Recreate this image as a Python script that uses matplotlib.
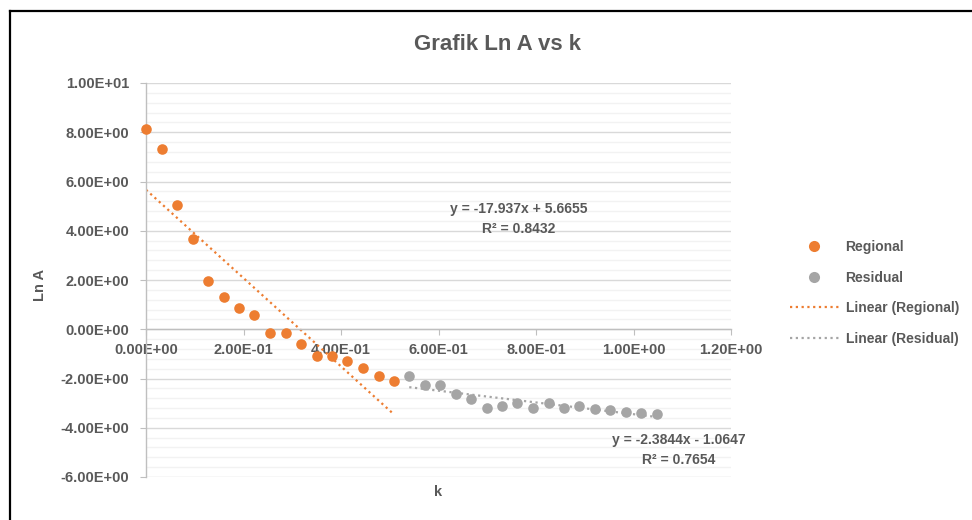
import matplotlib.pyplot as plt
from matplotlib.lines import Line2D
from matplotlib.ticker import MultipleLocator, FormatStrFormatter

# Data
k_regional = [0.000, 0.0328, 0.0636, 0.0964, 0.127, 0.160, 0.191, 0.222, 0.254,
              0.287, 0.318, 0.350, 0.382, 0.413, 0.445, 0.477, 0.508]
ln_a_regional = [8.12, 7.33, 5.03, 3.65, 1.96, 1.31, 0.85, 0.58, -0.15,
                 -0.15, -0.58, -1.10, -1.10, -1.29, -1.56, -1.88, -2.09]

k_residual = [0.540, 0.572, 0.604, 0.636, 0.667, 0.699, 0.730, 0.762, 0.793,
              0.826, 0.857, 0.888, 0.920, 0.952, 0.984, 1.016, 1.048]
ln_a_residual = [-1.91, -2.26, -2.26, -2.63, -2.85, -3.18, -3.12, -3.00, -3.21,
                 -3.00, -3.18, -3.13, -3.22, -3.28, -3.35, -3.39, -3.43]

# Trendline coefficients as printed on the chart (slope, intercept)
fit_regional = [-17.937, 5.6655]
fit_residual = [-2.3844, -1.0647]
r2_regional = 0.8432
r2_residual = 0.7654

series_names = ["Regional", "Residual"]

# Style
ORANGE = "#ED7D31"
GREY = "#A5A5A5"
TEXT = "#595959"
plt.rcParams["font.family"] = ["Liberation Sans", "DejaVu Sans"]
plt.rcParams["font.weight"] = "bold"

W, H = 972, 520
fig = plt.figure(figsize=(W / 100, H / 100), dpi=100)
ax = fig.add_axes([146 / W, 1 - 477 / H, 585 / W, 394 / H])

# Scatter points (not clipped, the first point sits on the y axis)
ax.scatter(k_regional, ln_a_regional, s=58, color=ORANGE, zorder=3,
           linewidths=0, clip_on=False)
ax.scatter(k_residual, ln_a_residual, s=58, color=GREY, zorder=3,
           linewidths=0, clip_on=False)

# Trendlines over the data range of each series
dots = (0, (1, 1.6))
for xs, (m, c), col in ((k_regional, fit_regional, ORANGE),
                        (k_residual, fit_residual, GREY)):
    x0, x1 = min(xs), max(xs)
    ax.plot([x0, x1], [m * x0 + c, m * x1 + c], color=col, lw=1.6,
            linestyle=dots, zorder=2)

# Axes formatting
ax.set_xlim(0, 1.2)
ax.set_ylim(-6, 10)
ax.xaxis.set_major_locator(MultipleLocator(0.2))
ax.yaxis.set_major_locator(MultipleLocator(2))
ax.yaxis.set_minor_locator(MultipleLocator(0.4))
ax.xaxis.set_major_formatter(FormatStrFormatter("%.2E"))
ax.yaxis.set_major_formatter(FormatStrFormatter("%.2E"))

ax.grid(axis="y", which="major", color="#D9D9D9", lw=1.0, zorder=0)
ax.grid(axis="y", which="minor", color="#F2F2F2", lw=1.0, zorder=0)
ax.set_axisbelow(True)
# x tick labels sit on top of the horizontal gridlines, under the points
ax.xaxis.set_zorder(1.5)

for side in ("top", "right"):
    ax.spines[side].set_visible(False)
ax.spines["bottom"].set_position(("data", 0))
for side in ("bottom", "left"):
    ax.spines[side].set_color("#BFBFBF")
    ax.spines[side].set_linewidth(1.0)

ax.tick_params(axis="both", which="major", colors="#BFBFBF", length=4,
               labelcolor=TEXT, labelsize=10.5)
ax.tick_params(axis="y", which="minor", length=0)
ax.tick_params(axis="x", pad=6)
ax.tick_params(axis="y", pad=8)

# Titles and axis labels
fig.text(497 / W, 1 - 44 / H, "Grafik Ln A vs k", ha="center", va="center",
         fontsize=16, color=TEXT, fontweight="bold")
fig.text(40 / W, 1 - 285 / H, "Ln A", rotation=90, ha="center", va="center",
         fontsize=10.5, color=TEXT, fontweight="bold")
fig.text(438 / W, 1 - 492 / H, "k", ha="center", va="center",
         fontsize=10.5, color=TEXT, fontweight="bold")

# Trendline equations
for (m, c), r2, (px, py) in ((fit_regional, r2_regional, (519, 209)),
                             (fit_residual, r2_residual, (679, 440))):
    sign = "+" if c >= 0 else "-"
    fig.text(px / W, 1 - py / H, f"y = {m}x {sign} {abs(c)}", ha="center",
             va="center", fontsize=10, color=TEXT, fontweight="bold")
    fig.text(px / W, 1 - (py + 20) / H, f"R² = {r2}", ha="center",
             va="center", fontsize=10, color=TEXT, fontweight="bold")

# Legend
handles = [
    Line2D([], [], marker="o", ls="none", color=ORANGE, markersize=8, markeredgewidth=0),
    Line2D([], [], marker="o", ls="none", color=GREY, markersize=8, markeredgewidth=0),
    Line2D([], [], color=ORANGE, lw=1.6, linestyle=dots),
    Line2D([], [], color=GREY, lw=1.6, linestyle=dots),
]
labels = series_names + [f"Linear ({n})" for n in series_names]
leg = fig.legend(handles, labels, loc="upper left",
                 bbox_to_anchor=(790 / W, 1 - 240 / H), frameon=False,
                 borderpad=0, borderaxespad=0, handlelength=3.5,
                 handletextpad=0.5, labelspacing=1.2, fontsize=10)
for t in leg.get_texts():
    t.set_color(TEXT)
    t.set_fontweight("bold")

# Chart border (top and left only are visible)
fig.add_artist(Line2D([10 / W, 1], [1 - 11 / H, 1 - 11 / H], color="black", lw=1.6))
fig.add_artist(Line2D([10 / W, 10 / W], [0, 1 - 11 / H], color="black", lw=1.6))

fig.savefig("out.png", dpi=100)
